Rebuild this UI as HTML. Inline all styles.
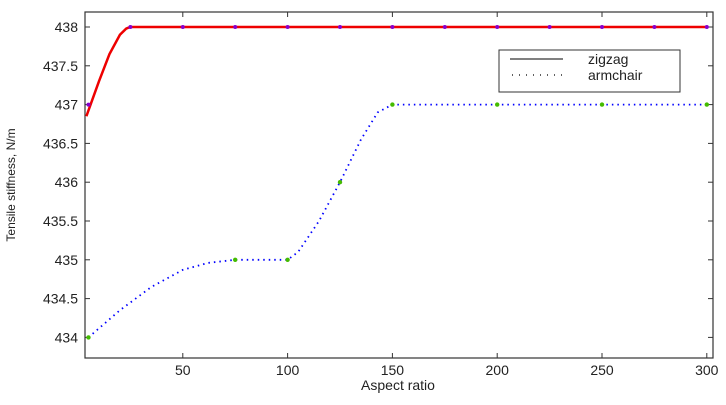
<!DOCTYPE html>
<html><head><meta charset="utf-8"><style>
body{margin:0;background:#fff;}
svg text{font-family:"Liberation Sans",sans-serif;fill:#222;}
</style></head><body>
<svg width="726" height="400">
<rect x="85" y="12" width="628" height="346" fill="#fff" stroke="#333" stroke-width="1.2"/>
<g id="ticks"></g>
<g id="series"></g>
<text x="398" y="390" font-size="14" text-anchor="middle">Aspect ratio</text>
<text transform="translate(15,185) rotate(-90)" font-size="12" text-anchor="middle">Tensile stiffness, N/m</text>
<g>
<rect x="499" y="50" width="181" height="42" fill="#fff" stroke="#333" stroke-width="1"/>
<line x1="510" y1="59" x2="563" y2="59" stroke="#000" stroke-width="1"/>
<line x1="512" y1="75" x2="563" y2="75" stroke="#000" stroke-width="1.2" stroke-dasharray="1,6"/>
<text x="588" y="64" font-size="14">zigzag</text>
<text x="588" y="80" font-size="14">armchair</text>
</g>
</svg>
<script>
const xTicks=[50,100,150,200,250,300];
const yTicks=[434,434.5,435,435.5,436,436.5,437,437.5,438];
const zigzagX=[4,6,10,15,20,23,25,50,300];
const zigzagY=[436.85,437.0,437.3,437.65,437.9,437.98,438,438,438];
const zigzagMarkX=[5,25,50,75,100,125,150,175,200,225,250,275,300];
const zigzagMarkY=[437,438,438,438,438,438,438,438,438,438,438,438,438];
const armX=[5,20,35,50,62,75,100,105,115,125,135,143,150,300];
const armY=[434,434.35,434.65,434.87,434.96,435,435,435.1,435.5,436,436.55,436.9,437,437];
const armMarkX=[5,75,100,125,150,200,250,300];
const armMarkY=[434,435,435,436,437,437,437,437];
const NS='http://www.w3.org/2000/svg';
const sx=v=>78+v*2.096;
const sy=v=>27+(438-v)*77.6;
function mk(t,a,parent){const e=document.createElementNS(NS,t);for(const k in a)e.setAttribute(k,a[k]);document.getElementById(parent).appendChild(e);return e;}
xTicks.forEach(v=>{
 const l=mk('line',{x1:sx(v),x2:sx(v),y1:358,y2:353,stroke:'#333'},'ticks');
 
 
 const l2=mk('line',{x1:sx(v),x2:sx(v),y1:12,y2:17,stroke:'#333'},'ticks');
 
 
 const t=mk('text',{x:sx(v),y:375,'font-size':14,'text-anchor':'middle'},'ticks');t.textContent=v;
 
 
});
yTicks.forEach(v=>{
 const l=mk('line',{x1:85,x2:90,y1:sy(v),y2:sy(v),stroke:'#333'},'ticks');
 
 
 const l2=mk('line',{x1:713,x2:708,y1:sy(v),y2:sy(v),stroke:'#333'},'ticks');
 
 
 const t=mk('text',{x:78,y:sy(v)+5,'font-size':14,'text-anchor':'end'},'ticks');t.textContent=v;
 
 
});
function path(xs,ys){return xs.map((x,i)=>(i?'L':'M')+sx(x)+','+sy(ys[i])).join('');}
const z=mk('path',{d:path(zigzagX,zigzagY),fill:'none',stroke:'#e00',"stroke-width":2.5},'series');


const a=mk('path',{d:path(armX,armY),fill:'none',stroke:'#00f',"stroke-width":1.8,"stroke-dasharray":"1.5,4"},'series');


zigzagMarkX.forEach((x,i)=>{const c=mk('circle',{cx:sx(x),cy:sy(zigzagMarkY[i]),r:2,fill:'#80c'},'series');
 
 });
armMarkX.forEach((x,i)=>{const c=mk('circle',{cx:sx(x),cy:sy(armMarkY[i]),r:2.2,fill:'#4b0'},'series');
 
 });
</script>
</body></html>
